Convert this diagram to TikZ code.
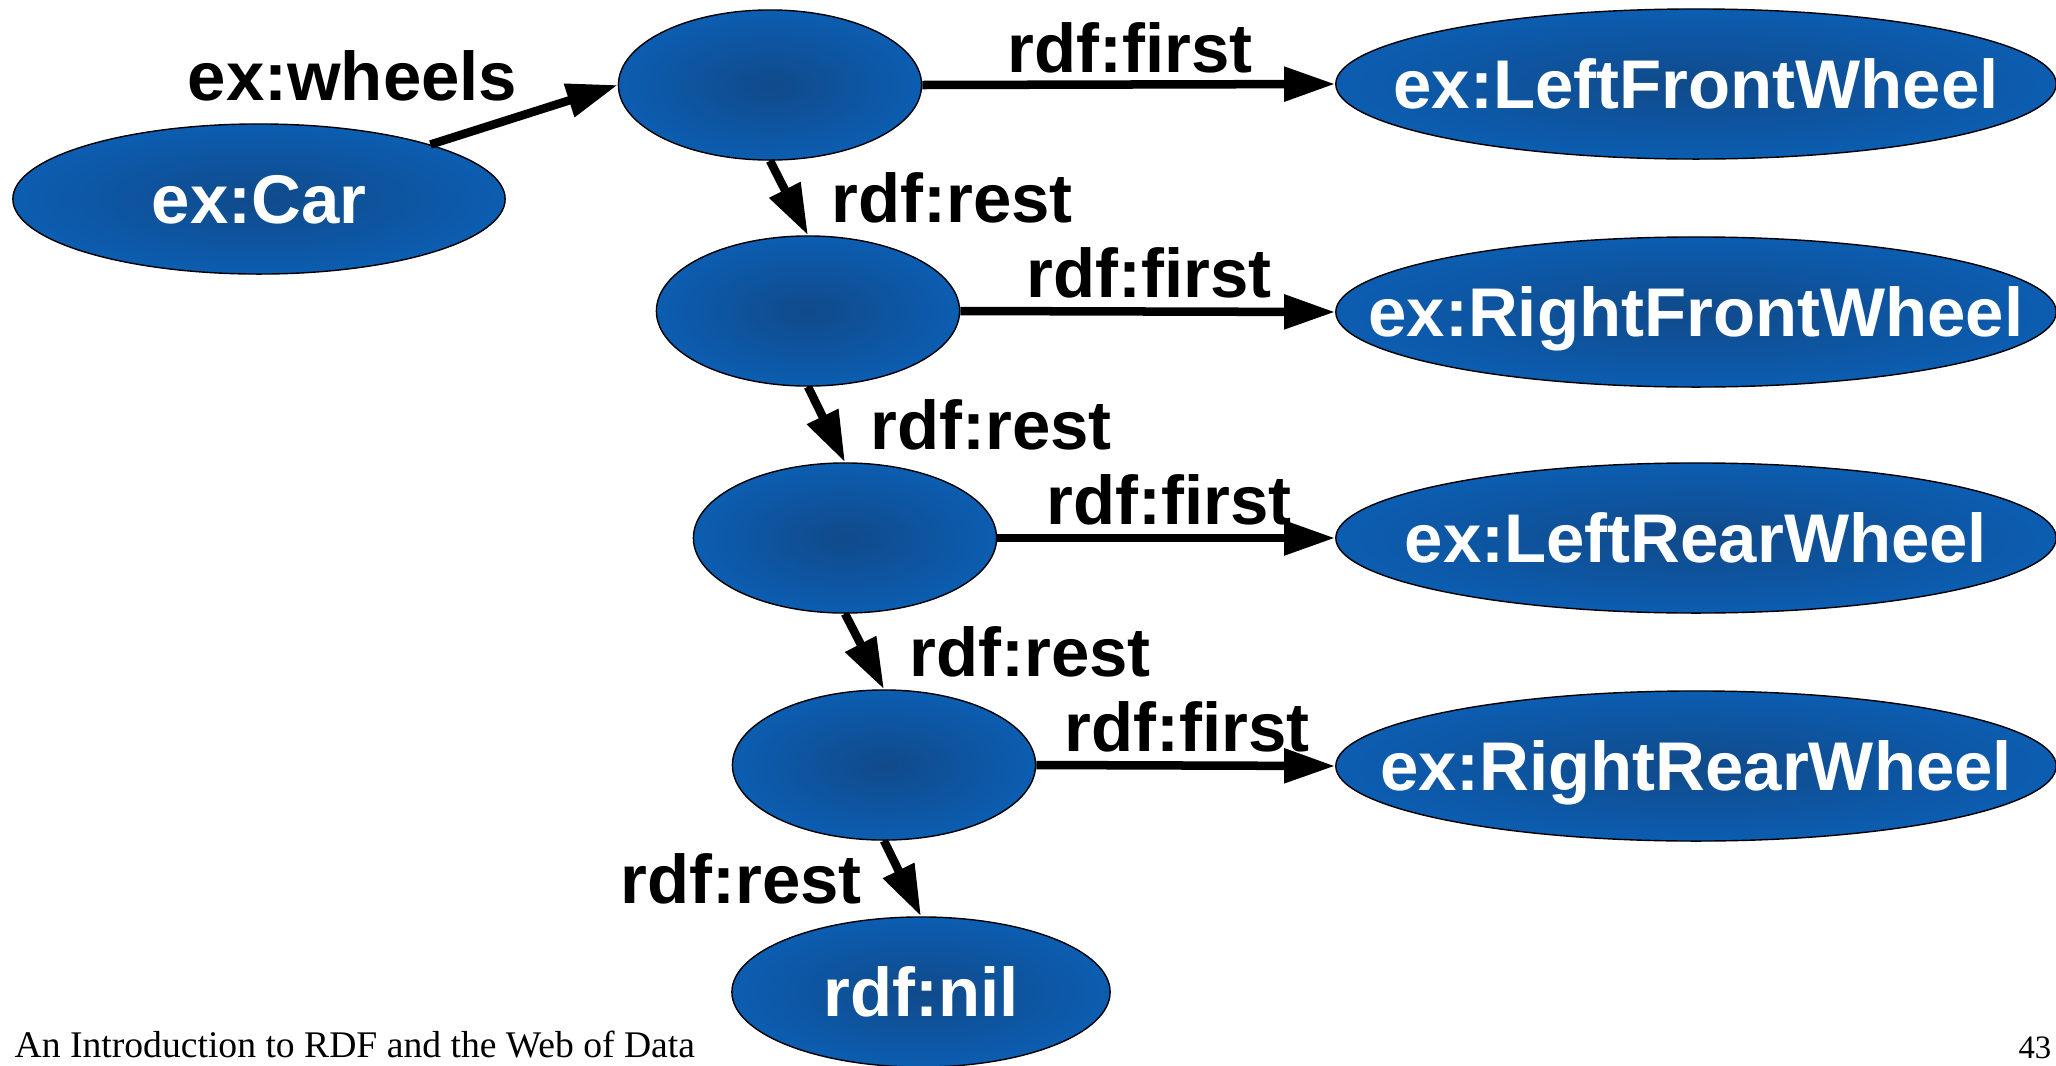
\documentclass[tikz,border=0pt]{standalone}
\usepackage{fontspec}
\setmainfont{Liberation Serif}
\newfontfamily\lblfont{Liberation Sans}
\usetikzlibrary{shapes.geometric,arrows.meta}

\definecolor{blueedge}{RGB}{8,112,216}
\definecolor{bluecore}{RGB}{16,74,138}
% dark core fading out to a brighter rim, reaching the rim at the node border
\pgfdeclareradialshading{nodeglow}{\pgfpoint{0bp}{0bp}}{%
  color(0bp)=(bluecore); color(50bp)=(blueedge)}

\tikzset{
  bigfont/.style={font=\lblfont\bfseries\fontsize{19.6pt}{23pt}\selectfont},
  blob/.style={ellipse, draw=black, line width=0.4pt, shading=nodeglow,
    inner sep=0pt, text=white, bigfont, text height=0.49cm, text depth=0pt},
  blank/.style={blob, minimum width=3.03cm, minimum height=1.5cm},
  resource/.style={blob, minimum width=7.2cm, minimum height=1.5cm},
  link/.style={-{Triangle[length=0.51cm,width=0.33cm]}, line width=0.085cm},
  lbl/.style={bigfont, anchor=base west, inner sep=0pt},
  footer/.style={inner sep=0pt, font=\fontsize{10.7pt}{12pt}\selectfont},
}

\begin{document}
\begin{tikzpicture}[x=0.01cm, y=-0.01cm]
\useasboundingbox (0,0) rectangle (2056,1066);

% subject and the list cells
\node[blob, minimum width=4.92cm, minimum height=1.5cm] (car) at (259,199) {\makebox[0pt]{ex:Car}};
\node[blank] (c1) at (770,85) {};
\node[blank] (c2) at (808,311) {};
\node[blank] (c3) at (845,538) {};
\node[blank] (c4) at (884,765) {};
\node[blob, minimum width=3.78cm, minimum height=1.5cm] (nil) at (921,992) {\makebox[0pt]{rdf:nil}};

% list members
\node[resource] (lfw) at (1696,84) {\makebox[0pt]{ex:LeftFrontWheel}};
\node[resource] (rfw) at (1696,312) {\makebox[0pt]{ex:RightFrontWheel}};
\node[resource] (lrw) at (1696,538) {\makebox[0pt]{ex:LeftRearWheel}};
\node[resource] (rrw) at (1696,766) {\makebox[0pt]{ex:RightRearWheel}};

% connectors
\draw[link] (car) -- (c1.west);
\draw[link] (c1.east) -- (lfw.west);
\draw[link] (c2.east) -- (rfw.west);
\draw[link] (c3.east) -- (lrw.west);
\draw[link] (c4.east) -- (rrw.west);
\draw[link] (c1.south) -- (c2.north);
\draw[link] (c2.south) -- (c3.north);
\draw[link] (c3.south) -- (c4.north);
\draw[link] (c4.south) -- (nil.north);

% property labels
\node[lbl] (lwheels) at (187,100) {ex:wheels};
\node[lbl] (lfirst1) at (1007,72) {rdf:first};
\node[lbl] (lrest1) at (831,222) {rdf:rest};
\node[lbl] (lfirst2) at (1026,297) {rdf:first};
\node[lbl] (lrest2) at (870,449) {rdf:rest};
\node[lbl] (lfirst3) at (1046,524) {rdf:first};
\node[lbl] (lrest3) at (909,676) {rdf:rest};
\node[lbl] (lfirst4) at (1064,751) {rdf:first};
\node[lbl] (lrest4) at (620,903) {rdf:rest};

% slide footer
\node[footer, anchor=base west] (foot) at (14,1057) {An Introduction to RDF and the Web of Data};
\node[footer, anchor=base east, font=\fontsize{9.3pt}{11pt}\selectfont] (page) at (2052,1058) {43};
\end{tikzpicture}
\end{document}
